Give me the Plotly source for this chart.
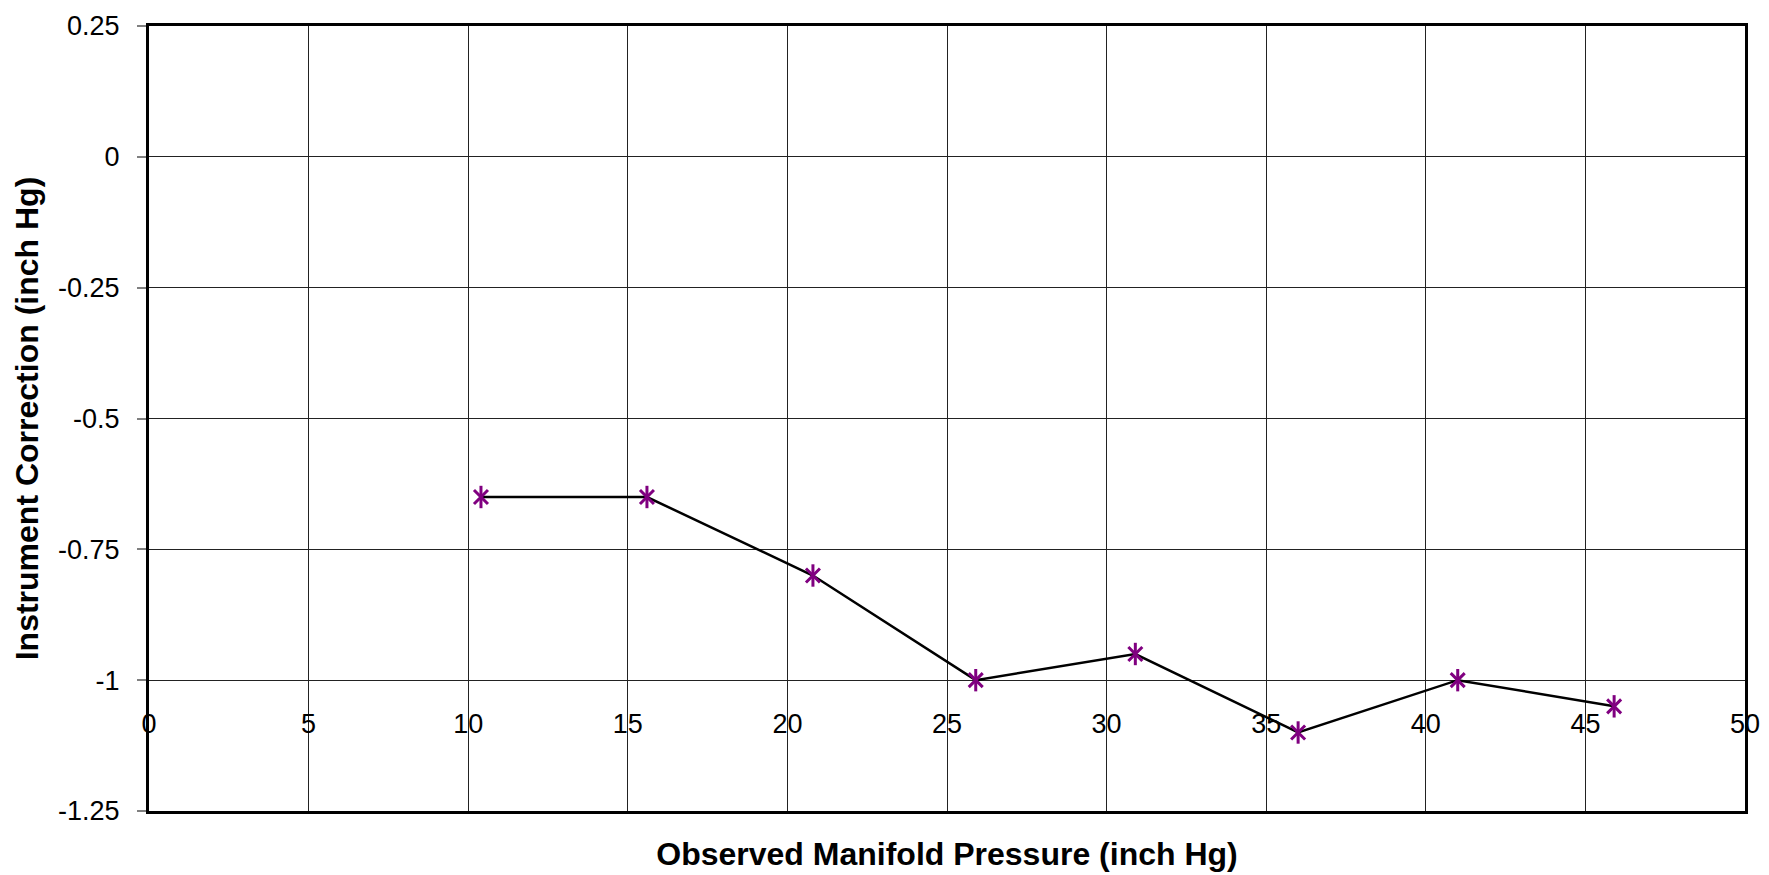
import plotly.graph_objects as go

# Data
pressure = [10.4, 15.6, 20.8, 25.9, 30.9, 36.0, 41.0, 45.9]
correction = [-0.65, -0.65, -0.8, -1.0, -0.95, -1.1, -1.0, -1.05]

x_ticks = [0, 5, 10, 15, 20, 25, 30, 35, 40, 45, 50]
x_labels = [str(v) for v in x_ticks]
y_ticks = [0.25, 0, -0.25, -0.5, -0.75, -1, -1.25]
y_labels = ["0.25", "0", "-0.25", "-0.5", "-0.75", "-1", "-1.25"]

x_title = "Observed Manifold Pressure (inch Hg)"
y_title = "Instrument Correction (inch Hg)"

FONT = "Liberation Sans, Arial, sans-serif"
PURPLE = "#800080"

fig = go.Figure()
fig.add_trace(go.Scatter(x=pressure, y=correction, mode="lines",
                         line=dict(color="black", width=2.5),
                         xaxis="x", yaxis="y", showlegend=False, hoverinfo="skip"))
fig.add_trace(go.Scatter(x=pressure, y=correction, mode="markers",
                         marker=dict(symbol="x-thin-open", size=14, color=PURPLE,
                                     line=dict(color=PURPLE, width=3)),
                         xaxis="x2", yaxis="y", showlegend=False))
fig.add_trace(go.Scatter(x=pressure, y=correction, mode="markers",
                         marker=dict(symbol="line-ns-open", size=16, color=PURPLE,
                                     line=dict(color=PURPLE, width=3)),
                         xaxis="x2", yaxis="y", showlegend=False))

fig.update_layout(
    width=1769, height=875,
    margin=dict(l=141, r=32, t=18, b=72),
    paper_bgcolor="white", plot_bgcolor="white",
    font=dict(family=FONT, size=27, color="black"),
    xaxis=dict(range=[0, 50], tickvals=x_ticks, showticklabels=False,
               showgrid=True, gridcolor="#222", gridwidth=1,
               showline=True, linecolor="black", linewidth=3, mirror=True,
               ticks="", zeroline=False, automargin=False,
               title=dict(text="<b>" + x_title + "</b>",
                          font=dict(family=FONT, size=32), standoff=30)),
    xaxis2=dict(range=[0, 50], tickvals=x_ticks, ticktext=x_labels,
                overlaying="x", anchor="free", position=1/6,
                showgrid=False, showline=False, zeroline=False, automargin=False,
                ticks="outside", ticklen=19, tickcolor="rgba(0,0,0,0)",
                tickfont=dict(family=FONT, size=27)),
    yaxis=dict(range=[-1.25, 0.25], tickvals=y_ticks, ticktext=y_labels,
               showgrid=True, gridcolor="#222", gridwidth=1,
               showline=True, linecolor="black", linewidth=3, mirror=True,
               ticks="outside", ticklen=9, tickcolor="#808080", tickwidth=1.5,
               ticklabelstandoff=12, zeroline=False, automargin=False,
               tickfont=dict(family=FONT, size=27),
               title=dict(text="<b>" + y_title + "</b>",
                          font=dict(family=FONT, size=32), standoff=10)),
)

fig.write_html("out.html")
